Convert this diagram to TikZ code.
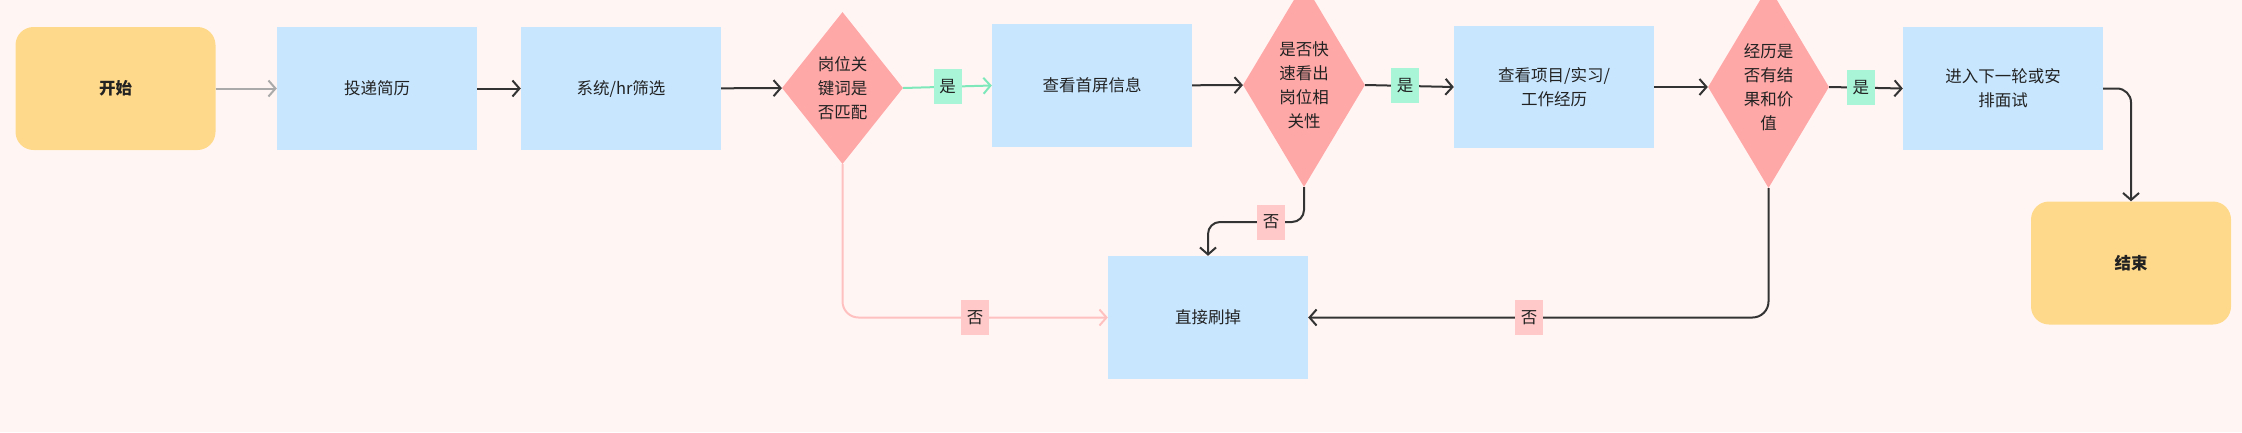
\documentclass[tikz,border=0pt]{standalone}
\usepackage{fontspec}
\setmainfont{Noto Sans CJK SC}
\usetikzlibrary{shapes.geometric,arrows.meta}
\definecolor{bgc}{HTML}{FFF6F4}
\definecolor{yel}{HTML}{FFD98B}
\definecolor{blu}{HTML}{C8E7FF}
\definecolor{dia}{HTML}{FFA8A8}
\definecolor{mint}{HTML}{A8F5D8}
\definecolor{pinkl}{HTML}{FFC9C9}
\definecolor{pinkline}{HTML}{FFC0C0}
\definecolor{greenline}{HTML}{7EE8BA}
\definecolor{greyline}{HTML}{AAAAAA}
\definecolor{dark}{HTML}{333333}
\definecolor{txt}{HTML}{222222}
\begin{document}
\begin{tikzpicture}[x=1pt,y=-1pt,
  every node/.style={font=\fontsize{16.5}{24}\selectfont, text=txt},
  term/.style={rectangle, rounded corners=18pt, fill=yel, minimum width=200pt, minimum height=123pt, inner sep=0pt, font=\fontsize{16.5}{24}\selectfont\bfseries},
  proc/.style={rectangle, fill=blu, minimum width=200pt, minimum height=123pt, inner sep=0pt, align=center},
  dec/.style={diamond, fill=dia, inner sep=0pt},
  dectext/.style={align=center, inner sep=0pt},
  yes/.style={rectangle, sharp corners, fill=mint, minimum width=28pt, minimum height=35pt, inner sep=0pt},
  no/.style={rectangle, sharp corners, fill=pinkl, minimum width=28pt, minimum height=35pt, inner sep=0pt},
  conn/.style={draw=dark, line width=2pt, -{Straight Barb[length=7pt,width=16pt]}},
]
\fill[bgc] (0,0) rectangle (2242,432);
\useasboundingbox (0,0) rectangle (2242,432);
\clip (0,0) rectangle (2242,432);

\node[term] (start) at (115.5,88.5) {开始};
\node[proc] (n1) at (377,88.5) {投递简历};
\node[proc] (n2) at (621,88.5) {系统/hr筛选};
\node[dec, minimum width=121pt, minimum height=152pt] (d1) at (842.5,88) {};
\node[dectext] (d1t) at (d1.center) {岗位关\\键词是\\否匹配};
\node[proc] (q1) at (1092,85.5) {查看首屏信息};
\node[dec, minimum width=122pt, minimum height=204pt] (d2) at (1304,85) {};
\node[dectext] (d2t) at (d2.center) {是否快\\速看出\\岗位相\\关性};
\node[proc, minimum height=122pt] (n3) at (1554,87) {查看项目/实习/\\工作经历};
\node[dec, minimum width=121pt, minimum height=202pt] (d3) at (1768.5,87) {};
\node[dectext] (d3t) at (d3.center) {经历是\\否有结\\果和价\\值};
\node[proc] (n4) at (2003,88.5) {进入下一轮或安\\排面试};
\node[term] (end) at (2131,263) {结束};
\node[proc] (rej) at (1208,317.5) {直接刷掉};
\coordinate (c2) at (1238,222);

\draw[conn, draw=greyline] (start) -- (n1);
\draw[conn] (n1) -- (n2);
\draw[conn] (n2) -- (d1);
\draw[conn, draw=greenline] (d1.east) -- node[yes] (y1) {是} (q1.west);
\draw[conn] (q1) -- (d2);
\draw[conn] (d2.east) -- node[yes, pos=0.45] (y2) {是} (n3.west);
\draw[conn] (n3) -- (d3);
\draw[conn] (d3.east) -- node[yes, pos=0.43] (y3) {是} (n4.west);
\draw[conn, rounded corners=14pt] (n4.east) -| (end.north);
\draw[conn, draw=pinkline, rounded corners=16pt] (d1.south) |- node[no, pos=0.75] (x1) {否} (rej.west);
\draw[conn, rounded corners=12pt] (d2.south) |- node[no, pos=0.75] (x2) {否} (c2) -| (rej.north);
\draw[conn, rounded corners=16pt] (d3.south) |- node[no, pos=0.76] (x3) {否} (rej.east);
\end{tikzpicture}
\end{document}
